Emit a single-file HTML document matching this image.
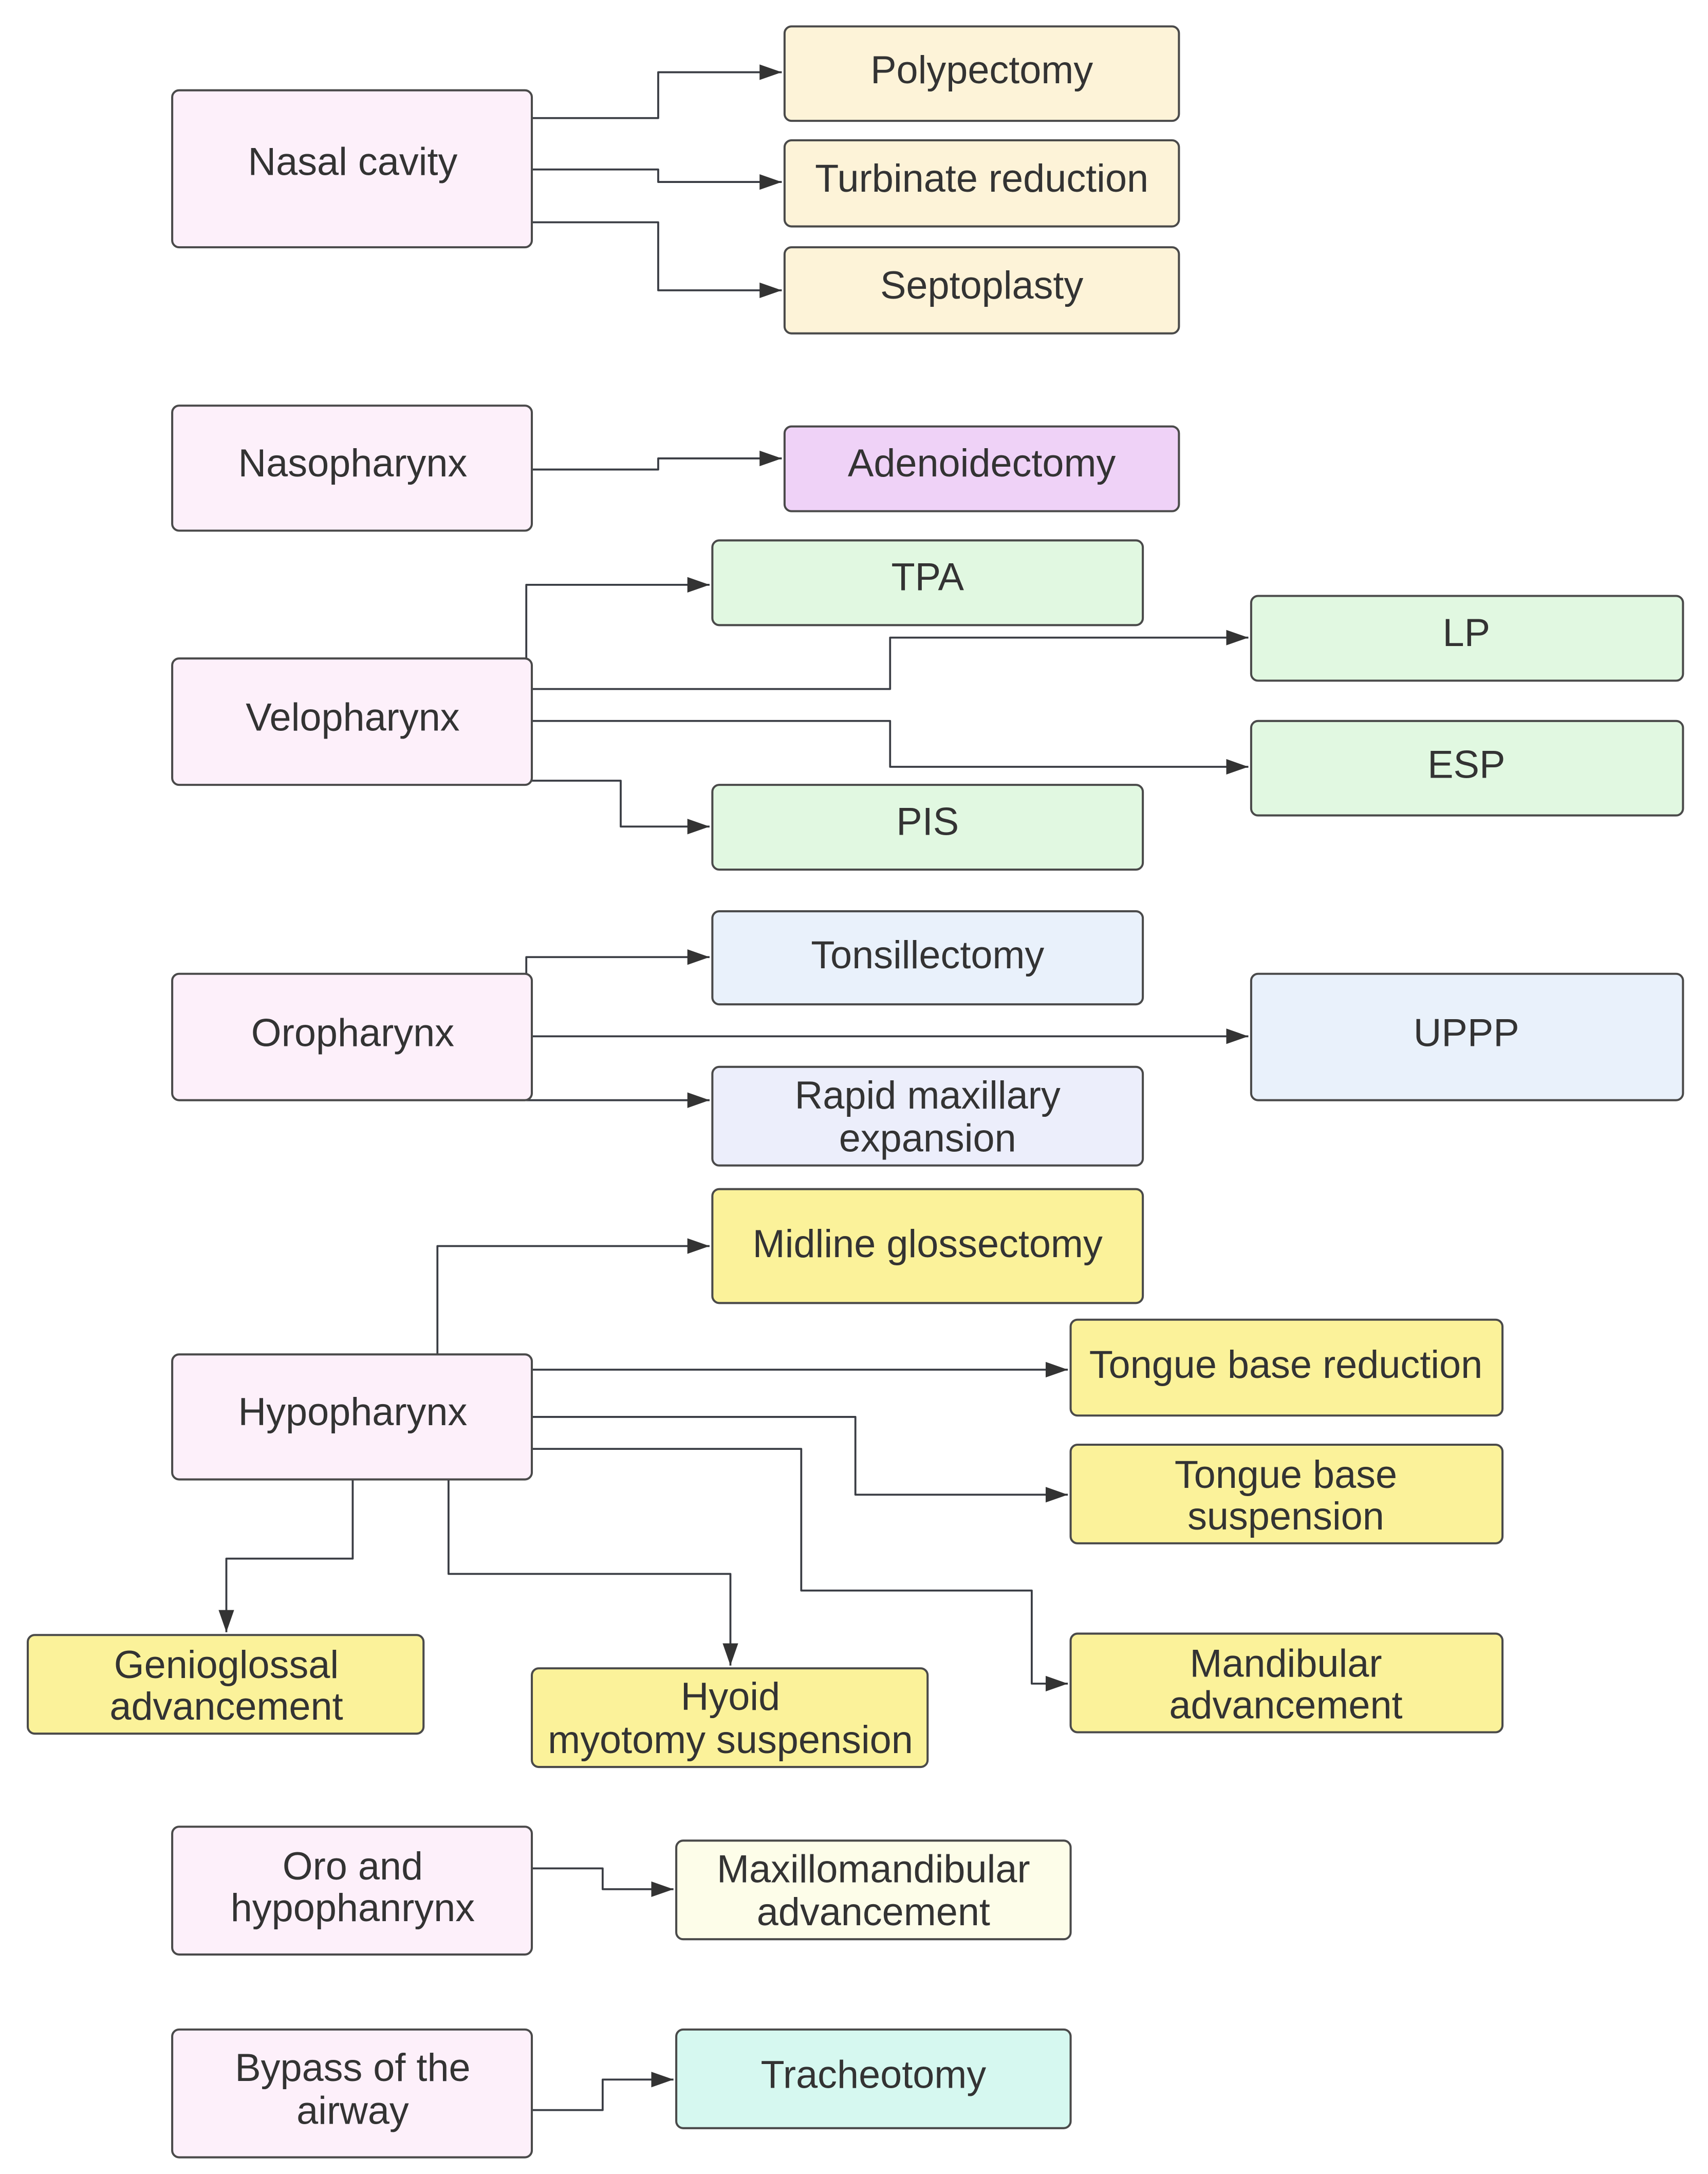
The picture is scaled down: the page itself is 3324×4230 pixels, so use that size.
<!DOCTYPE html>
<html><head><meta charset="utf-8"><style>html,body{margin:0;padding:0;background:#fff}svg{display:block}</style></head>
<body>
<svg width="3324" height="4230" viewBox="0 0 1230 1565" preserveAspectRatio="none" xmlns="http://www.w3.org/2000/svg">
<defs>
<marker id="b" viewBox="0 0 10 10" refX="10" refY="5" markerWidth="16" markerHeight="16" markerUnits="userSpaceOnUse" orient="auto"><path d="M0,1.5L10,5L0,8.5z" fill="#333"/></marker>
</defs>
<g fill="none" stroke="#3a3d44" stroke-width="1.4" marker-end="url(#b)" stroke-linejoin="round">
<path d="M383,85H474V52H563"/>
<path d="M383,122H474V131H563"/>
<path d="M383,160H474V209H563"/>
<path d="M383,338H474V330H563"/>
<path d="M379,474V421H511"/>
<path d="M383,496H641V459H899"/>
<path d="M383,519H641V552H899"/>
<path d="M383,562H447V595H511"/>
<path d="M379,701V689H511"/>
<path d="M383,746H899"/>
<path d="M379,792H511"/>
<path d="M315,975V897H511"/>
<path d="M383,986H769"/>
<path d="M383,1020H616V1076H769"/>
<path d="M383,1043H577V1145H743V1212H769"/>
<path d="M254,1065V1122H163V1175"/>
<path d="M323,1065V1133H526V1199"/>
<path d="M383,1345H434V1360H485"/>
<path d="M383,1519H434V1497H485"/>
</g>
<g stroke="#4a4a4a" stroke-width="1.5">
<rect x="124" y="65" width="259" height="113" rx="5" fill="#fdf0fa"/>
<rect x="565" y="19" width="284" height="68" rx="5" fill="#fdf3d8"/>
<rect x="565" y="101" width="284" height="62" rx="5" fill="#fdf3d8"/>
<rect x="565" y="178" width="284" height="62" rx="5" fill="#fdf3d8"/>
<rect x="124" y="292" width="259" height="90" rx="5" fill="#fdf0fa"/>
<rect x="565" y="307" width="284" height="61" rx="5" fill="#efd2f7"/>
<rect x="513" y="389" width="310" height="61" rx="5" fill="#e1f8e1"/>
<rect x="901" y="429" width="311" height="61" rx="5" fill="#e1f8e1"/>
<rect x="124" y="474" width="259" height="91" rx="5" fill="#fdf0fa"/>
<rect x="901" y="519" width="311" height="68" rx="5" fill="#e1f8e1"/>
<rect x="513" y="565" width="310" height="61" rx="5" fill="#e1f8e1"/>
<rect x="513" y="656" width="310" height="67" rx="5" fill="#e9f1fb"/>
<rect x="901" y="701" width="311" height="91" rx="5" fill="#e9f1fb"/>
<rect x="124" y="701" width="259" height="91" rx="5" fill="#fdf0fa"/>
<rect x="513" y="768" width="310" height="71" rx="5" fill="#eceefb"/>
<rect x="513" y="856" width="310" height="82" rx="5" fill="#fbf29a"/>
<rect x="771" y="950" width="311" height="69" rx="5" fill="#fbf29a"/>
<rect x="124" y="975" width="259" height="90" rx="5" fill="#fdf0fa"/>
<rect x="771" y="1040" width="311" height="71" rx="5" fill="#fbf29a"/>
<rect x="20" y="1177" width="285" height="71" rx="5" fill="#fbf29a"/>
<rect x="383" y="1201" width="285" height="71" rx="5" fill="#fbf29a"/>
<rect x="771" y="1176" width="311" height="71" rx="5" fill="#fbf29a"/>
<rect x="124" y="1315" width="259" height="92" rx="5" fill="#fdf0fa"/>
<rect x="487" y="1325" width="284" height="71" rx="5" fill="#fdfde9"/>
<rect x="124" y="1461" width="259" height="92" rx="5" fill="#fdf0fa"/>
<rect x="487" y="1461" width="284" height="71" rx="5" fill="#d6f8f0"/>
</g>
<g font-family="Liberation Sans, sans-serif" font-size="28" fill="#333" text-anchor="middle">
<text x="254" y="126">Nasal cavity</text>
<text x="707" y="60">Polypectomy</text>
<text x="707" y="138">Turbinate reduction</text>
<text x="707" y="215">Septoplasty</text>
<text x="254" y="343">Nasopharynx</text>
<text x="707" y="343">Adenoidectomy</text>
<text x="668" y="425">TPA</text>
<text x="1056" y="465">LP</text>
<text x="254" y="526">Velopharynx</text>
<text x="1056" y="560">ESP</text>
<text x="668" y="601">PIS</text>
<text x="668" y="697">Tonsillectomy</text>
<text x="1056" y="753">UPPP</text>
<text x="254" y="753">Oropharynx</text>
<text x="668" y="798">Rapid maxillary</text>
<text x="668" y="829">expansion</text>
<text x="668" y="905">Midline glossectomy</text>
<text x="926" y="992">Tongue base reduction</text>
<text x="254" y="1026">Hypopharynx</text>
<text x="926" y="1071">Tongue base</text>
<text x="926" y="1101">suspension</text>
<text x="163" y="1208">Genioglossal</text>
<text x="163" y="1238">advancement</text>
<text x="526" y="1231">Hyoid</text>
<text x="526" y="1262">myotomy suspension</text>
<text x="926" y="1207">Mandibular</text>
<text x="926" y="1237">advancement</text>
<text x="254" y="1353">Oro and</text>
<text x="254" y="1383">hypophanrynx</text>
<text x="629" y="1355">Maxillomandibular</text>
<text x="629" y="1386">advancement</text>
<text x="254" y="1498">Bypass of the</text>
<text x="254" y="1529">airway</text>
<text x="629" y="1503">Tracheotomy</text>
</g>
</svg>
</body></html>
